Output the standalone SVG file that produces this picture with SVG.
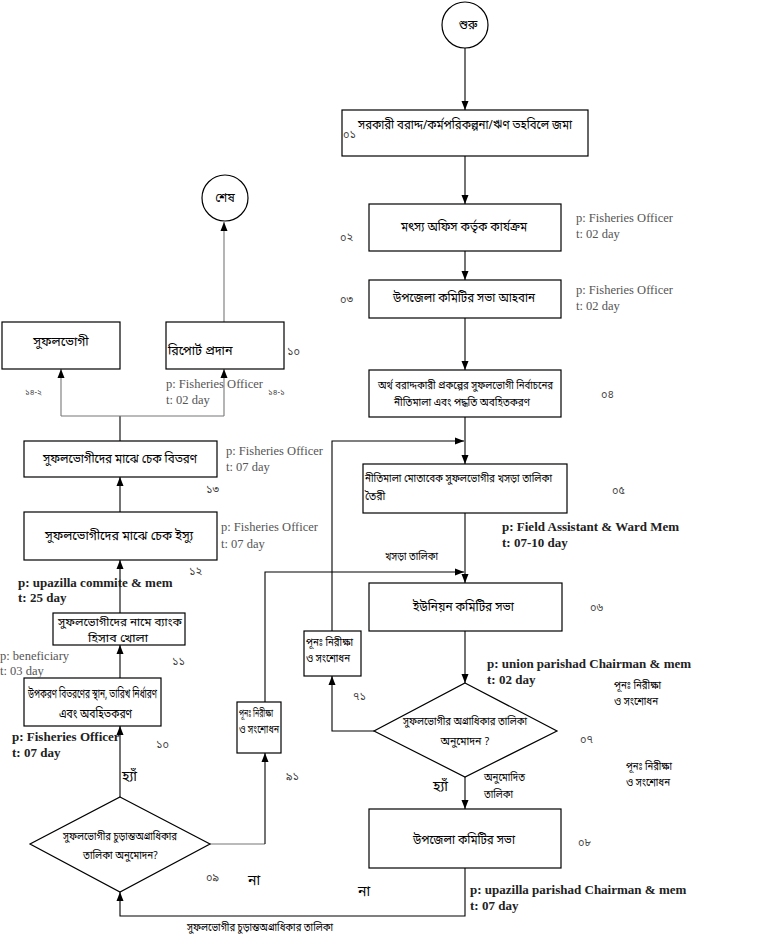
<svg xmlns="http://www.w3.org/2000/svg" width="768" height="940" viewBox="0 0 768 940">
<style>
.bx{fill:#fff;stroke:#000;stroke-width:1.2}
.bn{font-family:"Noto Sans Bengali","Noto Sans","DejaVu Sans",sans-serif;font-size:12.5px;fill:#000}
.bc{text-anchor:middle}
.sm{font-size:10.5px}
.num{font-family:"Noto Sans Bengali","Noto Sans","DejaVu Sans",sans-serif;font-size:11px;fill:#444}
.en{font-family:"Liberation Serif","Times New Roman",serif;font-size:12.5px;fill:#555}
.eb{font-family:"Liberation Serif","Times New Roman",serif;font-size:13px;font-weight:bold;fill:#222}
.c{fill:none;stroke:#000;stroke-width:1.1}
.g{stroke:#777}
</style>
<defs>
<marker id="ah" markerWidth="9" markerHeight="8" refX="9" refY="4" orient="auto" markerUnits="userSpaceOnUse">
<path d="M0,0.5 L9,4 L0,7.5 z" fill="#000"/>
</marker>
</defs>
<rect width="768" height="940" fill="#fff"/>
<g id="connectors">
<line class="c" x1="465" y1="48" x2="465" y2="110" marker-end="url(#ah)"/>
<line class="c" x1="465" y1="156" x2="465" y2="204" marker-end="url(#ah)"/>
<line class="c" x1="465" y1="251" x2="465" y2="280" marker-end="url(#ah)"/>
<line class="c" x1="465" y1="318" x2="465" y2="370" marker-end="url(#ah)"/>
<line class="c" x1="465" y1="417" x2="465" y2="464" marker-end="url(#ah)"/>
<line class="c" x1="465" y1="513" x2="465" y2="583" marker-end="url(#ah)"/>
<line class="c" x1="465" y1="631" x2="465" y2="683" marker-end="url(#ah)"/>
<line class="c" x1="465" y1="777" x2="465" y2="809" marker-end="url(#ah)"/>
<polyline class="c" points="374,731 332,731 332,676" marker-end="url(#ah)"/>
<polyline class="c" points="332,631 332,441 464,441" marker-end="url(#ah)"/>
<polyline class="c" points="465,868 465,916 120,916 120,892" marker-end="url(#ah)"/>
<polyline class="c g" points="210,844 265,844"/>
<polyline class="c" points="265,844 265,753" marker-end="url(#ah)"/>
<polyline class="c" points="265,702 265,572 464,572" marker-end="url(#ah)"/>
<line class="c" x1="120" y1="797" x2="120" y2="726" marker-end="url(#ah)"/>
<line class="c" x1="120" y1="678" x2="120" y2="645" marker-end="url(#ah)"/>
<line class="c" x1="120" y1="613" x2="120" y2="560" marker-end="url(#ah)"/>
<line class="c" x1="120" y1="512" x2="120" y2="477" marker-end="url(#ah)"/>
<polyline class="c" points="120,441 120,416"/>
<line class="c g" x1="61" y1="416" x2="224" y2="416"/>
<line class="c g" x1="61" y1="416" x2="61" y2="369" marker-end="url(#ah)"/>
<line class="c g" x1="224" y1="416" x2="224" y2="369" marker-end="url(#ah)"/>
<line class="c g" x1="224" y1="322" x2="224" y2="222" marker-end="url(#ah)"/>
</g>
<g id="start">
<circle cx="465" cy="25" r="23" class="bx"/>
<text x="468" y="29" class="bn bc" style="font-size:12px">শুরু</text>
</g>
<g id="n01">
<rect x="342" y="110" width="246" height="46" class="bx"/>
<text x="358" y="129" class="bn" textLength="214" lengthAdjust="spacingAndGlyphs">সরকারী বরাদ্দ/কর্মপরিকল্পনা/ঋণ তহবিলে জমা</text>
<text x="343" y="138" class="num">০১</text>
</g>
<g id="n02">
<rect x="369" y="204" width="192" height="47" class="bx"/>
<text x="401" y="231" class="bn" textLength="126" lengthAdjust="spacingAndGlyphs">মৎস্য অফিস কর্তৃক কার্যক্রম</text>
<text x="340" y="241" class="num">০২</text>
<text x="576" y="222" class="en">p: Fisheries Officer</text>
<text x="576" y="238" class="en">t: 02 day</text>
</g>
<g id="n03">
<rect x="369" y="280" width="192" height="38" class="bx"/>
<text x="393" y="302" class="bn" textLength="142" lengthAdjust="spacingAndGlyphs">উপজেলা কমিটির সভা আহবান</text>
<text x="340" y="303" class="num">০৩</text>
<text x="576" y="294" class="en">p: Fisheries Officer</text>
<text x="576" y="310" class="en">t: 02 day</text>
</g>
<g id="n04">
<rect x="369" y="370" width="192" height="47" class="bx"/>
<text x="378" y="389" class="bn sm" textLength="175" lengthAdjust="spacingAndGlyphs">অর্থ বরাদ্দকারী প্রকল্পের সুফলভোগী নির্বাচনের</text>
<text x="394" y="406" class="bn sm" textLength="136" lengthAdjust="spacingAndGlyphs">নীতিমালা এবং পদ্ধতি অবহিতকরণ</text>
<text x="601" y="398" class="num">০৪</text>
</g>
<g id="n05">
<rect x="363" y="464" width="204" height="49" class="bx"/>
<text x="365" y="482" class="bn sm" textLength="187" lengthAdjust="spacingAndGlyphs">নীতিমালা মোতাবেক সুফলভোগীর খসড়া তালিকা</text>
<text x="365" y="500" class="bn sm">তৈরী</text>
<text x="612" y="494" class="num">০৫</text>
<text x="502" y="531" class="eb">p: Field Assistant &amp; Ward Mem</text>
<text x="502" y="547" class="eb">t: 07-10 day</text>
<text x="385" y="560" class="bn sm" textLength="53" lengthAdjust="spacingAndGlyphs">খসড়া তালিকা</text>
</g>
<g id="n06">
<rect x="369" y="583" width="193" height="48" class="bx"/>
<text x="413" y="611" class="bn" textLength="101" lengthAdjust="spacingAndGlyphs">ইউনিয়ন কমিটির সভা</text>
<text x="590" y="611" class="num">০৬</text>
<text x="487" y="668" class="eb">p: union parishad Chairman &amp; mem</text>
<text x="487" y="684" class="eb">t: 02 day</text>
<text x="614" y="689" class="bn sm" textLength="47" lengthAdjust="spacingAndGlyphs">পূনঃ নিরীক্ষা</text>
<text x="614" y="705" class="bn sm" textLength="44" lengthAdjust="spacingAndGlyphs">ও সংশোধন</text>
</g>
<g id="n71">
<rect x="304" y="631" width="57" height="45" class="bx"/>
<text x="306" y="646" class="bn sm" textLength="47" lengthAdjust="spacingAndGlyphs">পূনঃ নিরীক্ষা</text>
<text x="306" y="662" class="bn sm" textLength="44" lengthAdjust="spacingAndGlyphs">ও সংশোধন</text>
<text x="353" y="700" class="num">৭১</text>
</g>
<g id="n07">
<polygon points="465,683 557,731 465,777 374,731" class="bx"/>
<text x="403" y="725" class="bn sm" textLength="124" lengthAdjust="spacingAndGlyphs">সুফলভোগীর অগ্রাধিকার তালিকা</text>
<text x="465" y="745" class="bn bc sm">অনুমোদন ?</text>
<text x="580" y="743" class="num">০৭</text>
<text x="433" y="791" class="bn" style="font-size:14px">হ্যাঁ</text>
<text x="484" y="781" class="bn sm" textLength="41" lengthAdjust="spacingAndGlyphs">অনুমোদিত</text>
<text x="484" y="798" class="bn sm" textLength="29" lengthAdjust="spacingAndGlyphs">তালিকা</text>
<text x="626" y="770" class="bn sm" textLength="46" lengthAdjust="spacingAndGlyphs">পূনঃ নিরীক্ষা</text>
<text x="626" y="786" class="bn sm" textLength="44" lengthAdjust="spacingAndGlyphs">ও সংশোধন</text>
</g>
<g id="n08">
<rect x="369" y="809" width="192" height="59" class="bx"/>
<text x="413" y="844" class="bn" textLength="102" lengthAdjust="spacingAndGlyphs">উপজেলা কমিটির সভা</text>
<text x="578" y="846" class="num">০৮</text>
<text x="470" y="894" class="eb">p: upazilla parishad Chairman &amp; mem</text>
<text x="470" y="910" class="eb">t: 07 day</text>
<text x="358" y="896" class="bn" style="font-size:14px">না</text>
<text x="187" y="931" class="bn sm" fill="#333" textLength="146" lengthAdjust="spacingAndGlyphs">সুফলভোগীর চুড়ান্তঅগ্রাধিকার তালিকা</text>
</g>
<g id="n09">
<polygon points="120,797 210,844 120,892 30,844" class="bx"/>
<text x="63" y="840" class="bn sm" textLength="114" lengthAdjust="spacingAndGlyphs">সুফলভোগীর চুড়ান্তঅগ্রাধিকার</text>
<text x="83" y="859" class="bn sm" textLength="75" lengthAdjust="spacingAndGlyphs">তালিকা অনুমোদন?</text>
<text x="206" y="881" class="num">০৯</text>
<text x="248" y="885" class="bn" style="font-size:14px">না</text>
<text x="122" y="781" class="bn" style="font-size:14px">হ্যাঁ</text>
</g>
<g id="n91">
<rect x="237" y="702" width="44" height="51" class="bx"/>
<text x="239" y="717" class="bn sm" textLength="34" lengthAdjust="spacingAndGlyphs">পূনঃ নিরীক্ষা</text>
<text x="239" y="733" class="bn sm" textLength="40" lengthAdjust="spacingAndGlyphs">ও সংশোধন</text>
<text x="286" y="780" class="num">৯১</text>
</g>
<g id="n10">
<rect x="24" y="678" width="137" height="48" class="bx"/>
<text x="28" y="698" class="bn" textLength="129" lengthAdjust="spacingAndGlyphs">উপকরণ বিতরণের স্থান, তারিখ নির্ধারণ</text>
<text x="59" y="718" class="bn" textLength="73" lengthAdjust="spacingAndGlyphs">এবং অবহিতকরণ</text>
<text x="12" y="741" class="eb">p: Fisheries Officer</text>
<text x="12" y="757" class="eb">t: 07 day</text>
<text x="156" y="748" class="num">১০</text>
</g>
<g id="n11">
<rect x="53" y="613" width="132" height="32" class="bx"/>
<text x="58" y="626" class="bn sm" textLength="124" lengthAdjust="spacingAndGlyphs">সুফলভোগীদের নামে ব্যাংক</text>
<text x="88" y="642" class="bn sm" textLength="60" lengthAdjust="spacingAndGlyphs">হিসাব খোলা</text>
<text x="172" y="665" class="num">১১</text>
<text x="0" y="660" class="en">p: beneficiary</text>
<text x="0" y="675" class="en">t: 03 day</text>
<text x="18" y="587" class="eb">p: upazilla commite &amp; mem</text>
<text x="18" y="602" class="eb">t: 25 day</text>
</g>
<g id="n12">
<rect x="24" y="512" width="193" height="48" class="bx"/>
<text x="45" y="540" class="bn" textLength="148" lengthAdjust="spacingAndGlyphs">সুফলভোগীদের মাঝে চেক ইস্যু</text>
<text x="221" y="531" class="en">p: Fisheries Officer</text>
<text x="221" y="548" class="en">t: 07 day</text>
<text x="189" y="575" class="num">১২</text>
</g>
<g id="n13">
<rect x="24" y="441" width="193" height="36" class="bx"/>
<text x="43" y="463" class="bn" textLength="154" lengthAdjust="spacingAndGlyphs">সুফলভোগীদের মাঝে চেক বিতরণ</text>
<text x="226" y="455" class="en">p: Fisheries Officer</text>
<text x="226" y="471" class="en">t: 07 day</text>
<text x="206" y="493" class="num">১৩</text>
</g>
<g id="n142">
<rect x="2" y="322" width="118" height="47" class="bx"/>
<text x="61" y="346" class="bn bc">সুফলভোগী</text>
<text x="25" y="395" class="num" style="font-size:8px">১৪-২</text>
</g>
<g id="n141">
<rect x="166" y="322" width="118" height="47" class="bx"/>
<text x="168" y="355" class="bn">রিপোর্ট প্রদান</text>
<text x="287" y="355" class="num">১০</text>
<text x="166" y="388" class="en">p: Fisheries Officer</text>
<text x="166" y="404" class="en">t: 02 day</text>
<text x="268" y="395" class="num" style="font-size:8px">১৪-১</text>
</g>
<g id="end">
<circle cx="225" cy="198" r="23" class="bx"/>
<text x="225" y="202" class="bn bc" style="font-size:12px">শেষ</text>
</g>
</svg>
